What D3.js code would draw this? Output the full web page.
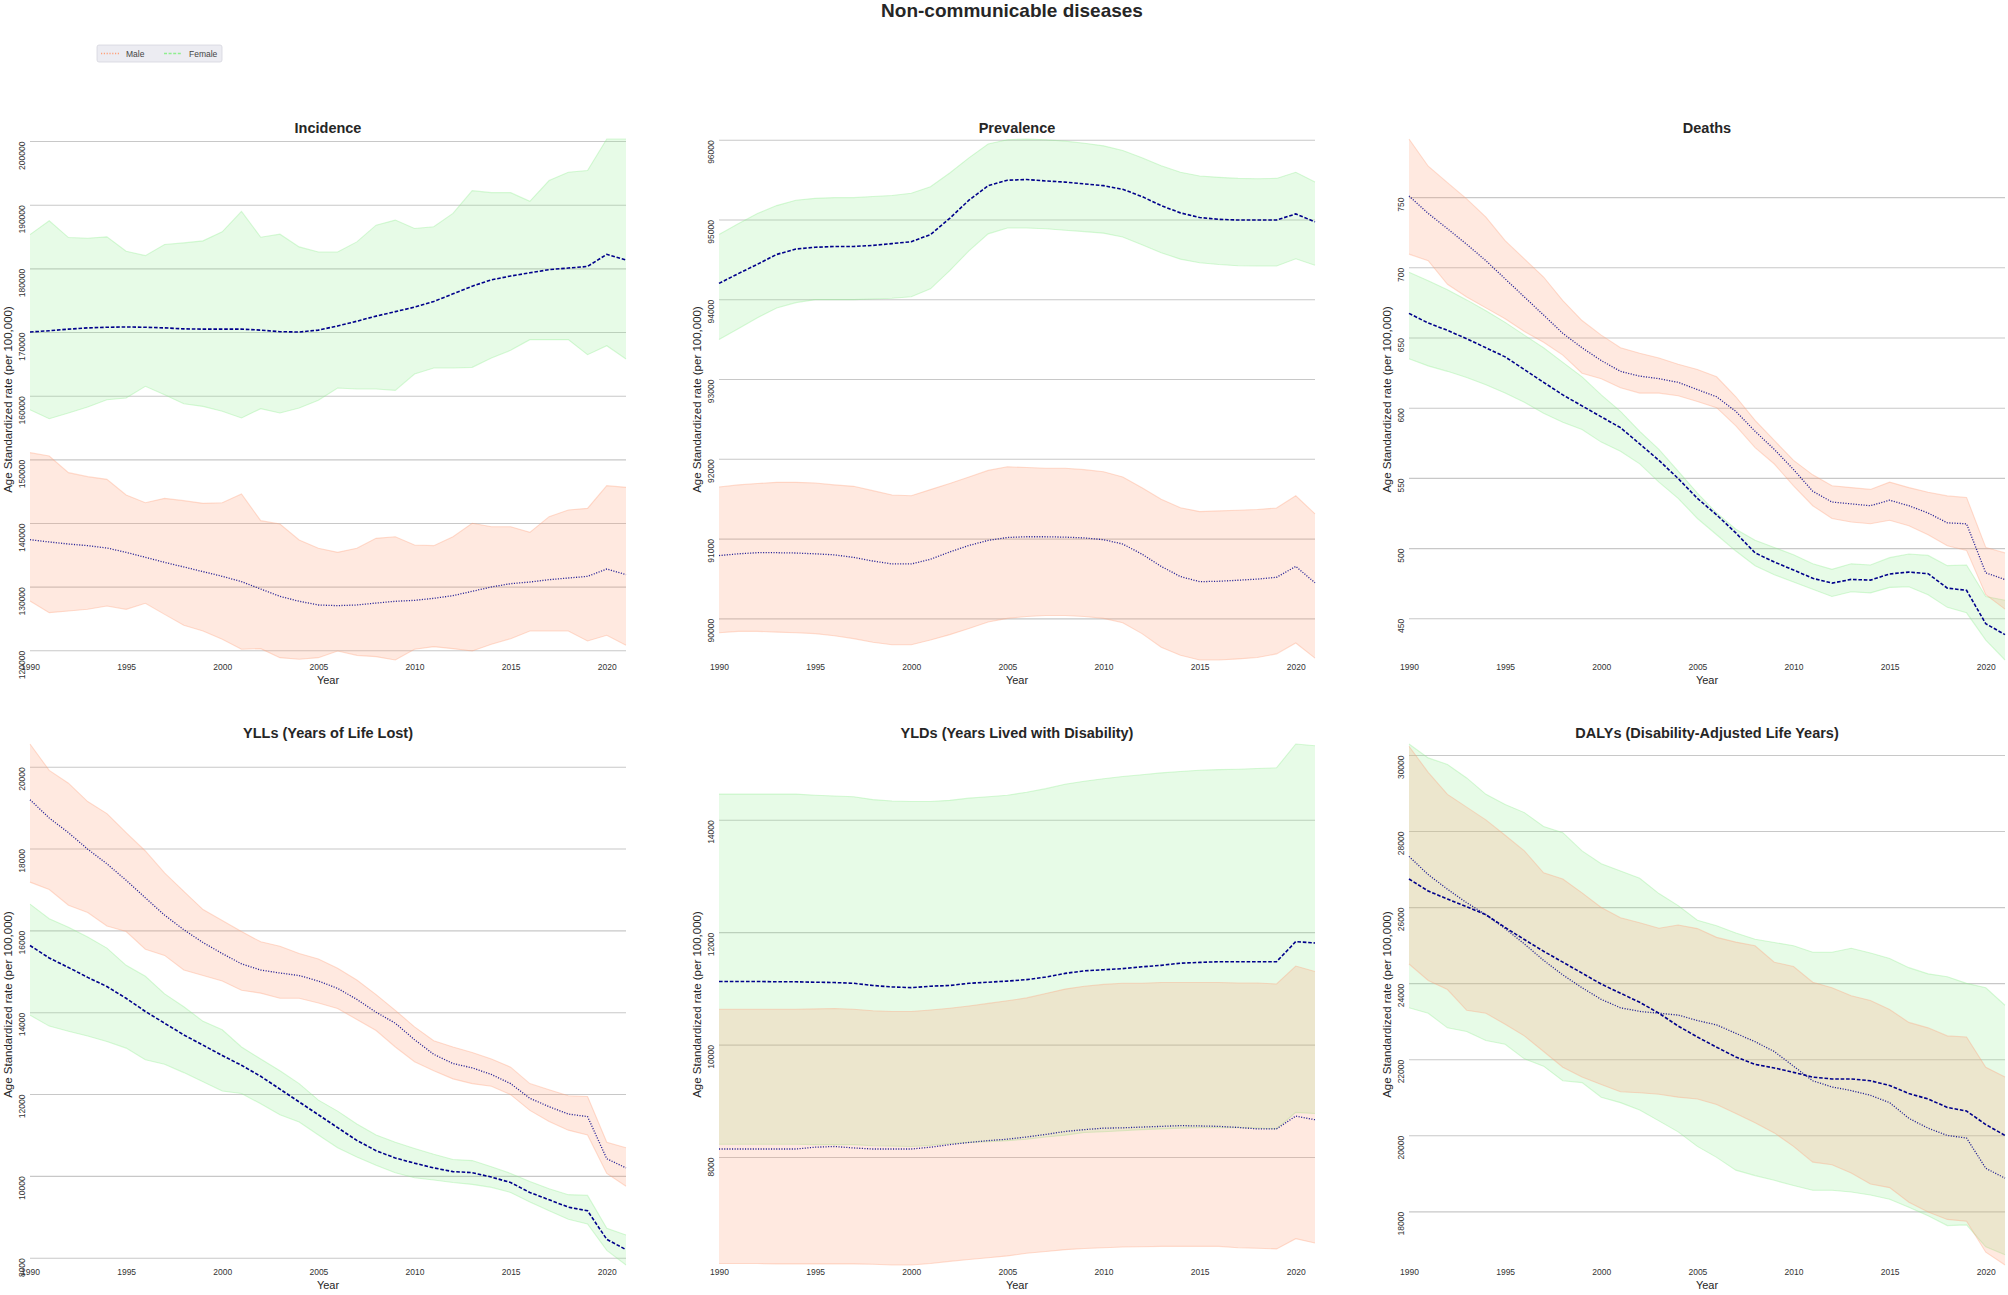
<!DOCTYPE html>
<html>
<head>
<meta charset="utf-8">
<script src="https://cdn.jsdelivr.net/npm/d3@7/dist/d3.min.js"></script>
<style>
  html, body { margin: 0; padding: 0; background: #fff; }
  svg text { font-family: "Liberation Sans", Arial, sans-serif; }
</style>
</head>
<body>
<svg id="chart" width="2008" height="1295"></svg>
<script>
// ---------------- DATA ----------------
const years = [1990,1991,1992,1993,1994,1995,1996,1997,1998,1999,2000,2001,2002,2003,2004,2005,
               2006,2007,2008,2009,2010,2011,2012,2013,2014,2015,2016,2017,2018,2019,2020,2021];
const yearTicks = [1990,1995,2000,2005,2010,2015,2020];
const panelTitles = ["Incidence","Prevalence","Deaths",
                     "YLLs (Years of Life Lost)","YLDs (Years Lived with Disability)","DALYs (Disability-Adjusted Life Years)"];
const seriesNames = ["Male","Female"];

// Incidence
const incMaleHi = [151050,150520,147910,147280,146860,144400,143190,143870,143510,143090,143190,144550,140370,139840,137330,136020,135390,136020,137590,137850,136540,136440,137850,139950,139420,139420,138530,141000,142040,142300,145860,145600];
const incMaleMean = [137380,137020,136700,136440,136070,135390,134610,133820,133090,132360,131620,130790,129630,128480,127700,127120,127020,127120,127430,127700,127850,128170,128590,129270,129950,130470,130730,131100,131360,131620,132770,131880];
const incMaleLo = [127750,125920,126180,126440,126960,126440,127380,125650,123930,123040,121730,120160,120260,118850,118590,118850,119900,119210,119010,118480,120160,120580,120260,119900,120940,121830,123040,123040,123040,121470,122360,120790];
const incFemHi = [185300,187470,184840,184740,184950,182680,182000,183740,184000,184320,185740,188950,184890,185370,183370,182580,182580,184160,186790,187580,186260,186530,188630,192210,191890,191890,190530,193790,195110,195370,200320,200320];
const incFemMean = [170000,170200,170450,170650,170750,170800,170750,170650,170500,170450,170450,170450,170300,170050,170000,170300,170950,171700,172500,173200,173900,174800,176000,177200,178200,178800,179300,179800,180050,180300,182200,181300];
const incFemLo = [157800,156390,157280,158220,159370,159630,161470,160160,158740,158320,157540,156490,157960,157280,158060,159270,161200,161050,161050,160840,163400,164350,164350,164450,165920,167120,168800,168800,168800,166440,167850,165760];
const incTicks = [120000,130000,140000,150000,160000,170000,180000,190000,200000];

// Prevalence
const prvMaleHi = [91646,91673,91691,91705,91705,91696,91673,91655,91601,91546,91537,91614,91691,91773,91855,91900,91891,91882,91882,91864,91837,91773,91637,91492,91387,91338,91347,91356,91365,91383,91537,91310];
const prvMaleMean = [90787,90809,90823,90823,90819,90809,90796,90764,90719,90682,90682,90741,90832,90914,90977,91014,91023,91023,91018,91009,90986,90932,90805,90651,90524,90460,90465,90478,90492,90515,90651,90446];
const prvMaleLo = [89819,89837,89837,89828,89819,89809,89782,89746,89701,89669,89669,89728,89796,89873,89955,90000,90023,90036,90036,90023,90000,89946,89809,89637,89537,89478,89478,89492,89510,89555,89691,89501];
const prvFemHi = [94811,94947,95074,95174,95242,95265,95274,95274,95288,95301,95329,95410,95583,95773,95946,96000,96009,96000,95982,95955,95923,95864,95773,95673,95592,95546,95528,95515,95510,95515,95592,95469];
const prvFemMean = [94199,94321,94439,94562,94630,94652,94662,94662,94675,94698,94721,94811,95015,95242,95424,95492,95501,95483,95469,95446,95424,95378,95288,95174,95083,95025,95002,94993,94993,94993,95070,94970];
const prvFemLo = [93495,93630,93768,93890,93958,93995,93995,93995,94004,94013,94031,94131,94358,94607,94820,94893,94893,94884,94866,94848,94829,94780,94684,94584,94503,94457,94435,94421,94417,94417,94507,94426];
const prvTicks = [90000,91000,92000,93000,94000,95000,96000];

// Deaths
const dthMaleHi = [791.4,772.0,760.3,748.7,735.8,719.0,706.0,693.1,676.3,662.1,651.7,642.7,638.8,635.4,631.0,627.2,622.0,607.8,591.0,576.7,562.5,552.2,544.4,543.1,541.8,547.0,543.1,539.8,537.2,536.1,500.5,496.6];
const dthMaleMean = [750.8,738.4,727.5,716.4,704.7,691.8,678.9,666.0,653.0,642.7,633.6,625.9,622.5,620.7,618.1,612.9,607.8,597.4,583.2,570.3,556.0,540.5,532.8,531.5,530.2,534.1,530.2,525.0,518.0,517.3,482.4,477.6];
const dthMaleLo = [709.4,704.7,687.9,678.9,671.1,663.4,654.3,646.6,637.5,624.6,620.7,614.2,610.4,610.4,608.5,604.4,600.0,587.1,571.6,559.9,544.4,530.2,521.1,518.6,517.3,519.8,516.0,509.5,501.7,498.4,466.8,456.5];
const dthFemHi = [696.5,690.5,684.1,676.8,669.1,660.8,651.7,642.7,632.3,622.0,609.1,597.4,583.2,570.3,554.8,539.2,525.0,513.4,505.6,500.5,495.3,488.8,484.9,488.8,488.0,493.2,495.8,494.8,487.5,488.0,465.5,462.9];
const dthFemMean = [667.2,660.3,655.1,649.1,642.7,636.2,627.2,618.1,609.1,601.3,593.5,585.8,574.2,562.5,549.6,535.4,523.7,510.8,496.6,490.1,484.4,478.5,475.1,477.7,477.2,481.6,482.9,481.8,471.5,469.9,446.1,438.4];
const dthFemLo = [634.9,629.8,625.9,621.5,616.3,610.4,603.9,596.1,589.7,584.5,575.5,569.0,560.0,547.0,535.4,521.1,509.5,497.9,487.5,481.1,475.9,470.7,465.5,468.9,468.1,472.0,472.5,466.8,457.8,453.9,434.5,420.3];
const dthTicks = [450,500,550,600,650,700,750];

// YLLs
const yllMaleHi = [20555,19910,19597,19149,18854,18388,17940,17403,16955,16508,16239,15970,15720,15612,15433,15299,15075,14788,14430,14045,13642,13302,13149,13015,12854,12657,12254,12102,11959,11941,10821,10687];
const yllMaleMean = [19194,18746,18388,17985,17627,17224,16794,16373,16015,15702,15433,15182,15030,14958,14896,14761,14582,14313,14000,13731,13329,12970,12746,12639,12478,12254,11896,11690,11511,11448,10418,10194];
const yllMaleLo = [17179,17000,16615,16436,16105,15970,15540,15388,15030,14896,14761,14537,14466,14340,14340,14224,14090,13821,13552,13149,12791,12567,12370,12254,12191,11985,11600,11331,11117,11000,10060,9747];
const yllFemHi = [16642,16284,16078,15836,15567,15146,14878,14448,14134,13776,13570,13149,12854,12567,12254,11851,11582,11269,11000,10821,10669,10526,10400,10373,10221,10060,9863,9684,9540,9522,8717,8555];
const yllFemMean = [15630,15325,15093,14851,14627,14340,14018,13731,13445,13194,12943,12702,12433,12120,11806,11493,11179,10866,10615,10436,10310,10194,10104,10078,9970,9836,9594,9415,9236,9146,8448,8197];
const yllFemLo = [13928,13660,13534,13418,13284,13122,12836,12728,12523,12299,12075,12012,11761,11493,11314,11000,10687,10463,10257,10078,9953,9899,9836,9791,9719,9594,9361,9146,8940,8824,8179,7821];
const yllTicks = [8000,10000,12000,14000,16000,18000,20000];

// YLDs
const yldMaleHi = [10629,10629,10629,10629,10629,10635,10642,10629,10603,10590,10590,10616,10648,10687,10733,10779,10831,10909,10987,11039,11071,11091,11091,11104,11104,11104,11104,11097,11097,11078,11397,11299];
const yldMaleMean = [8143,8143,8143,8143,8143,8175,8188,8162,8143,8143,8143,8175,8221,8260,8292,8318,8357,8403,8455,8488,8514,8520,8533,8546,8559,8553,8546,8527,8501,8501,8729,8664];
const yldMaleLo = [6106,6106,6106,6100,6100,6100,6100,6100,6093,6080,6080,6106,6145,6177,6210,6242,6288,6320,6353,6373,6386,6399,6405,6412,6412,6412,6412,6386,6379,6366,6548,6470];
const yldFemHi = [14456,14456,14456,14456,14456,14436,14423,14410,14358,14332,14325,14325,14345,14384,14410,14436,14488,14553,14631,14683,14729,14768,14800,14833,14859,14879,14892,14898,14911,14924,15347,15315];
const yldFemMean = [11123,11123,11123,11117,11117,11110,11104,11091,11052,11026,11013,11039,11052,11091,11110,11130,11156,11202,11267,11312,11332,11351,11384,11410,11449,11462,11475,11475,11475,11475,11833,11807];
const yldFemLo = [8227,8227,8227,8227,8227,8221,8221,8221,8201,8195,8188,8208,8240,8260,8273,8292,8318,8357,8390,8436,8449,8468,8488,8501,8514,8520,8527,8520,8514,8501,8794,8774];
const yldTicks = [8000,10000,12000,14000];

// DALYs
const dalMaleHi = [30230,29540,28964,28628,28293,27890,27477,26902,26739,26375,25991,25722,25588,25444,25530,25434,25204,25079,24983,24551,24437,24024,23880,23669,23545,23305,22969,22825,22614,22585,21789,21530];
const dalMaleMean = [27333,26854,26470,26115,25799,25435,25032,24600,24216,23880,23573,23353,23257,23209,23161,23017,22902,22681,22461,22202,21818,21434,21271,21175,21051,20859,20446,20187,19996,19928,19132,18873];
const dalMaleLo = [24504,24072,23832,23286,23209,22921,22614,22202,21789,21530,21338,21146,21118,21079,21003,20955,20811,20571,20331,20063,19708,19295,19228,19008,18720,18624,18240,17981,17789,17741,16926,16590];
const dalFemHi = [30288,29923,29751,29396,28964,28695,28484,28120,27957,27477,27142,26950,26758,26355,26039,25655,25511,25319,25156,25070,24983,24811,24811,24916,24792,24648,24408,24245,24168,23995,23880,23420];
const dalFemMean = [26739,26422,26211,26010,25799,25463,25147,24839,24552,24264,23976,23736,23497,23209,22873,22585,22317,22058,21866,21770,21655,21530,21482,21482,21434,21310,21099,20955,20734,20638,20283,19996];
const dalFemLo = [23353,23209,22825,22729,22490,22394,22010,21818,21434,21386,21002,20859,20667,20379,20091,19708,19420,19084,18940,18816,18681,18557,18557,18509,18432,18317,18106,17886,17626,17645,17070,16859];
const dalTicks = [18000,20000,22000,24000,26000,28000,30000];

// Panel table built from the arrays above
const panels = [
  {title: panelTitles[0], male: [incMaleLo, incMaleMean, incMaleHi], female: [incFemLo, incFemMean, incFemHi], ticks: incTicks},
  {title: panelTitles[1], male: [prvMaleLo, prvMaleMean, prvMaleHi], female: [prvFemLo, prvFemMean, prvFemHi], ticks: prvTicks},
  {title: panelTitles[2], male: [dthMaleLo, dthMaleMean, dthMaleHi], female: [dthFemLo, dthFemMean, dthFemHi], ticks: dthTicks},
  {title: panelTitles[3], male: [yllMaleLo, yllMaleMean, yllMaleHi], female: [yllFemLo, yllFemMean, yllFemHi], ticks: yllTicks},
  {title: panelTitles[4], male: [yldMaleLo, yldMaleMean, yldMaleHi], female: [yldFemLo, yldFemMean, yldFemHi], ticks: yldTicks},
  {title: panelTitles[5], male: [dalMaleLo, dalMaleMean, dalMaleHi], female: [dalFemLo, dalFemMean, dalFemHi], ticks: dalTicks}
];

// ---------------- LAYOUT / STYLE ----------------
const colLeft = [30, 719, 1409];
const rowTop = [139, 744];
const plotW = 596, plotH = 521;
const maleColor = "#ffa07a", femColor = "#90ee90";
const maleOpacity = 0.23, femOpacity = 0.22;
const lineColor = "#00008b";
const textColor = "#262626";

const svg = d3.select("#chart");

svg.append("text")
  .attr("x", 1012).attr("y", 17)
  .attr("text-anchor", "middle")
  .attr("font-size", 19).attr("font-weight", "bold")
  .attr("fill", textColor)
  .text("Non-communicable diseases");

// Legend
const lg = svg.append("g");
lg.append("rect").attr("x", 97).attr("y", 45).attr("width", 125).attr("height", 17)
  .attr("rx", 2).attr("fill", "#ececf2").attr("stroke", "#d6d6de").attr("stroke-width", 0.8);
const legendItems = [
  {name: seriesNames[0], color: maleColor, dash: "1.2,1.6", x: 101},
  {name: seriesNames[1], color: femColor, dash: "3,1.6", x: 164}
];
legendItems.forEach(it => {
  lg.append("line").attr("x1", it.x).attr("x2", it.x + 18).attr("y1", 53.5).attr("y2", 53.5)
    .attr("stroke", it.color).attr("stroke-width", 1.3).attr("stroke-dasharray", it.dash);
  lg.append("text").attr("x", it.x + 25).attr("y", 56.5)
    .attr("font-size", 8.5).attr("fill", "#444").text(it.name);
});

panels.forEach((p, i) => {
  const left = colLeft[i % 3], top = rowTop[Math.floor(i / 3)];
  const g = svg.append("g").attr("transform", `translate(${left},${top})`);

  const allLo = d3.min([...p.male[0], ...p.female[0]]);
  const allHi = d3.max([...p.male[2], ...p.female[2]]);
  const x = d3.scaleLinear().domain([years[0], years[years.length - 1]]).range([0, plotW]);
  const y = d3.scaleLinear().domain([allLo, allHi]).range([plotH, 0]);

  // y axis with gridlines
  const yAx = g.append("g").call(
    d3.axisLeft(y).tickValues(p.ticks).tickFormat(d3.format("d")).tickSize(-plotW).tickPadding(5)
  );
  yAx.select(".domain").remove();
  yAx.selectAll(".tick line").attr("stroke", "#c8c8c8").attr("stroke-width", 1.1);
  yAx.selectAll(".tick text")
    .attr("transform", "rotate(-90)")
    .attr("x", 0).attr("y", -5).attr("dy", 0)
    .attr("text-anchor", "end")
    .attr("font-size", 8.5).attr("fill", "#333")
    .attr("font-family", "'Liberation Sans', Arial, sans-serif");

  // x axis
  const xAx = g.append("g").attr("transform", `translate(0,${plotH})`).call(
    d3.axisBottom(x).tickValues(yearTicks).tickFormat(d3.format("d")).tickSize(0).tickPadding(4)
  );
  xAx.select(".domain").remove();
  xAx.selectAll(".tick text").attr("font-size", 8.5).attr("fill", "#333")
    .attr("font-family", "'Liberation Sans', Arial, sans-serif");

  // bands: female first, male on top
  const groups = [
    {d: p.female, color: femColor, op: femOpacity, dash: "3.6,1.8", w: 1.6, lop: 1},
    {d: p.male, color: maleColor, op: maleOpacity, dash: "1.1,1.5", w: 1.3, lop: 0.85}
  ];
  const area = d3.area().x((d, k) => x(years[k])).y0(d => y(d[0])).y1(d => y(d[1]));
  const line = d3.line().x((d, k) => x(years[k])).y(d => y(d));
  groups.forEach(s => {
    const rows = years.map((yr, k) => [s.d[0][k], s.d[2][k]]);
    g.append("path").datum(rows).attr("d", area)
      .attr("fill", s.color).attr("fill-opacity", s.op).attr("stroke", "none");
    [s.d[0], s.d[2]].forEach(edge => {
      g.append("path").datum(edge).attr("d", line)
        .attr("fill", "none").attr("stroke", s.color).attr("stroke-opacity", 0.35).attr("stroke-width", 1.1);
    });
  });
  groups.forEach(s => {
    g.append("path").datum(s.d[1]).attr("d", line)
      .attr("fill", "none").attr("stroke", lineColor).attr("stroke-width", s.w)
      .attr("stroke-opacity", s.lop).attr("stroke-dasharray", s.dash);
  });

  // titles and labels
  g.append("text").attr("x", plotW / 2).attr("y", -6).attr("text-anchor", "middle")
    .attr("font-size", 14.5).attr("font-weight", "bold").attr("fill", textColor).text(p.title);
  g.append("text").attr("x", plotW / 2).attr("y", plotH + 24).attr("text-anchor", "middle")
    .attr("font-size", 11).attr("fill", textColor).text("Year");
  g.append("text").attr("transform", `translate(-18,${plotH / 2}) rotate(-90)`)
    .attr("text-anchor", "middle").attr("font-size", 11.5).attr("fill", textColor)
    .text("Age Standardized rate (per 100,000)");
});
</script>
</body>
</html>
